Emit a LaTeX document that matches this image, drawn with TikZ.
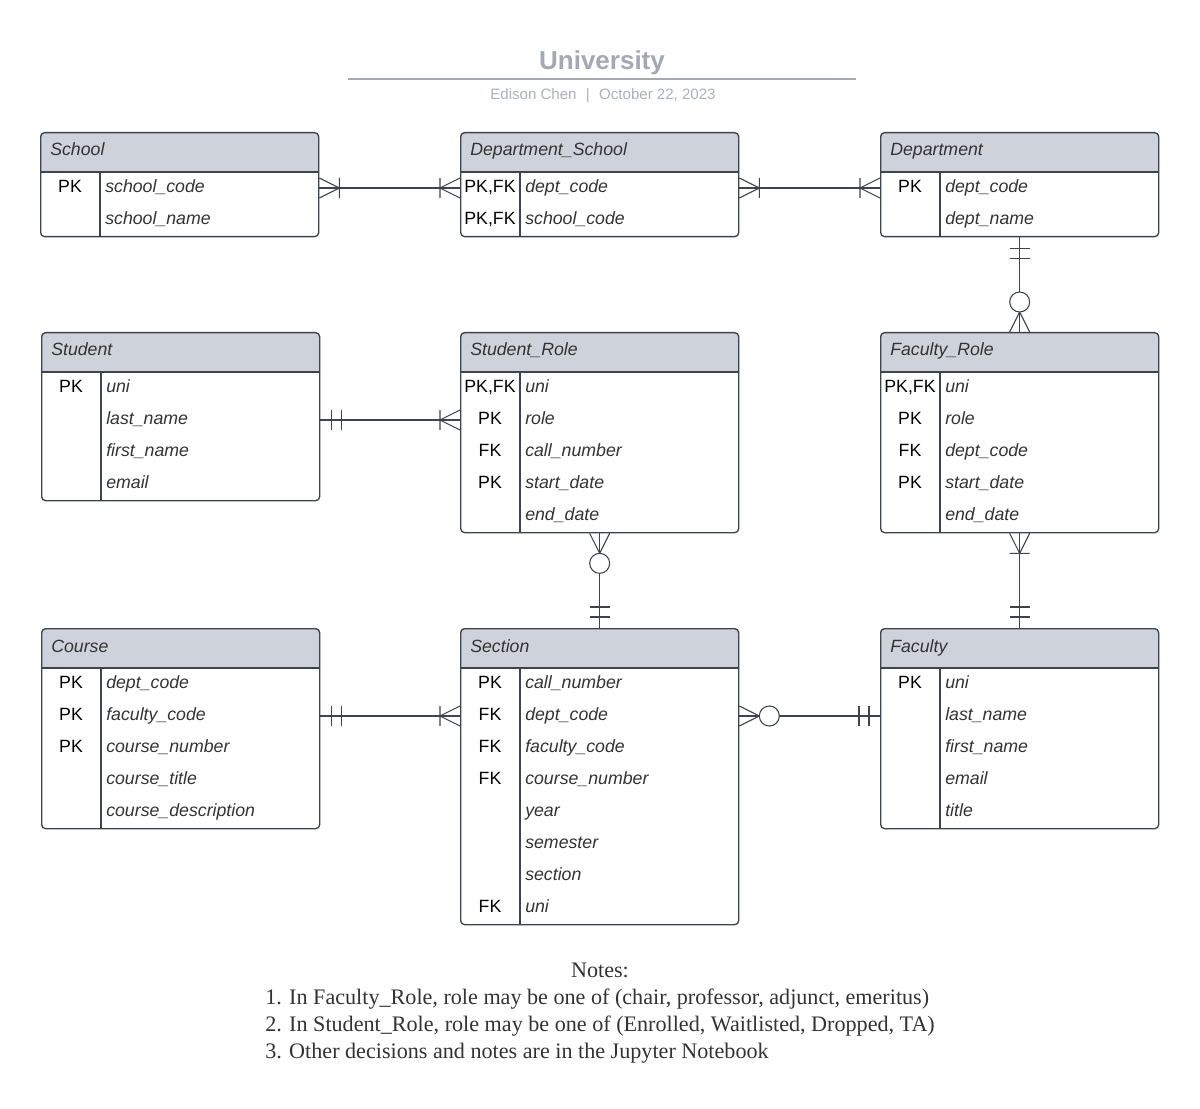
\documentclass[tikz,border=0pt]{standalone}
\usepackage{fontspec}
\setmainfont{Liberation Serif}
\setsansfont{Liberation Sans}

\definecolor{edge}{HTML}{3E444D}
\definecolor{hdrfill}{HTML}{CED3DB}
\definecolor{fieldgray}{HTML}{333333}
\definecolor{titlegray}{HTML}{A3A8B3}

\tikzset{
  tblbox/.style={draw=edge, line width=1pt, rounded corners=3pt, inner sep=0pt,
    minimum width=208.5pt},
  tblline/.style={draw=edge, line width=1pt},
  conn/.style={draw=edge, line width=0.8pt},
  hdrtext/.style={font=\sffamily\itshape\fontsize{13.3}{15}\selectfont, text=fieldgray, inner sep=0pt},
  keytext/.style={font=\sffamily\fontsize{13.3}{15}\selectfont, text=black, inner sep=0pt},
  fieldtext/.style={font=\sffamily\itshape\fontsize{13.3}{15}\selectfont, text=fieldgray, inner sep=0pt},
  notetext/.style={font=\fontsize{16.6}{19}\selectfont, text=fieldgray, inner sep=0pt},
  pics/onemany/.style={code={\draw[conn] (0,-10) -- (20,0) -- (0,10) (20,-10) -- (20,10);}},
  pics/justone/.style={code={\draw[conn] (11,-10) -- (11,10) (21,-10) -- (21,10);}},
  pics/zeromany/.style={code={\draw[conn] (0,-10) -- (20,0) -- (0,10);
    \draw[conn, fill=white] (30,0) circle[radius=10];}},
}

% id, x, y, number of rows, title, key/field list
\newcommand{\entity}[6]{%
  \fill[hdrfill, rounded corners=3pt] (#2,#3) rectangle (#2+279,#3+46);
  \fill[white] (#2,#3+40) rectangle (#2+279,{#3+40+32*#4});
  \draw[tblline] (#2,#3+40) -- (#2+279,#3+40);
  \draw[tblline] (#2+60,#3+40) -- (#2+60,{#3+40+32*#4});
  \node[hdrtext, anchor=base west] (#1-t) at (#2+10,#3+24) {#5};
  \foreach \k/\f [count=\i] in {#6} {
    \coordinate (#1-\i) at (#2,{#3+24+32*\i});
    \node[keytext, anchor=base] (#1-k\i) at (#2+30,{#3+28.5+32*\i}) {\k};
    \node[fieldtext, anchor=base west] (#1-f\i) at (#2+65,{#3+28.5+32*\i}) {\f};
  }
  \node[tblbox, minimum height={(40+32*#4)*0.75pt}, anchor=north west] (#1) at (#2,#3) {};
}

\begin{document}
\begin{tikzpicture}[x=0.75pt, y=-0.75pt]
  \useasboundingbox[fill=white] (0,0) rectangle (1200,1109);

  % heading
  \node[font=\sffamily\bfseries\fontsize{19.5}{22}\selectfont, text=titlegray, anchor=base] (title) at (602,70) {University};
  \coordinate (rulel) at (348,79);
  \coordinate (ruler) at (856,79);
  \draw[titlegray, line width=1.5pt] (rulel) -- (ruler);
  \node[font=\sffamily\fontsize{11.3}{13}\selectfont, text=titlegray!90, anchor=base] (byline) at (603,100)
    {Edison Chen\hspace{7pt}|\hspace{7pt}October 22, 2023};

  % tables
  \entity{school}{40}{132}{2}{School}{PK/school\_code, /school\_name}
  \entity{dsch}{460}{132}{2}{Department\_School}{{PK,FK}/dept\_code, {PK,FK}/school\_code}
  \entity{dept}{880}{132}{2}{Department}{PK/dept\_code, /dept\_name}
  \entity{student}{41}{332}{4}{Student}{PK/uni, /last\_name, /first\_name, /email}
  \entity{srole}{460}{332}{5}{Student\_Role}{{PK,FK}/uni, PK/role, FK/call\_number, PK/start\_date, /end\_date}
  \entity{frole}{880}{332}{5}{Faculty\_Role}{{PK,FK}/uni, PK/role, FK/dept\_code, PK/start\_date, /end\_date}
  \entity{course}{41}{628}{5}{Course}{PK/dept\_code, PK/faculty\_code, PK/course\_number, /course\_title, /course\_description}
  \entity{section}{460}{628}{8}{Section}{PK/call\_number, FK/dept\_code, FK/faculty\_code, FK/course\_number, /year, /semester, /section, FK/uni}
  \entity{faculty}{880}{628}{5}{Faculty}{PK/uni, /last\_name, /first\_name, /email, /title}

  % relationships
  \draw[conn] (school.east |- school-1) -- (dsch.west |- dsch-1);
  \pic at (school.east |- school-1) {onemany};
  \pic[rotate=180] at (dsch.west |- dsch-1) {onemany};

  \draw[conn] (dsch.east |- dsch-1) -- (dept.west |- dept-1);
  \pic at (dsch.east |- dsch-1) {onemany};
  \pic[rotate=180] at (dept.west |- dept-1) {onemany};

  \draw[conn] (dept.south) -- (frole.north);
  \pic[rotate=-90] at (dept.south) {justone};
  \pic[rotate=90] at (frole.north) {zeromany};

  \draw[conn] (student.east |- student-2) -- (srole.west |- srole-2);
  \pic at (student.east |- student-2) {justone};
  \pic[rotate=180] at (srole.west |- srole-2) {onemany};

  \draw[conn] (srole.south) -- (section.north);
  \pic[rotate=-90] at (srole.south) {zeromany};
  \pic[rotate=90] at (section.north) {justone};

  \draw[conn] (frole.south) -- (faculty.north);
  \pic[rotate=-90] at (frole.south) {onemany};
  \pic[rotate=90] at (faculty.north) {justone};

  \draw[conn] (course.east |- course-2) -- (section.west |- section-2);
  \pic at (course.east |- course-2) {justone};
  \pic[rotate=180] at (section.west |- section-2) {onemany};

  \draw[conn] (section.east |- section-2) -- (faculty.west |- faculty-2);
  \pic at (section.east |- section-2) {zeromany};
  \pic[rotate=180] at (faculty.west |- faculty-2) {justone};

  % notes
  \node[notetext, anchor=base] (notes) at (600,977) {Notes:};
  \node[notetext, anchor=base west] (note1) at (265,1004) {1. In Faculty\_Role, role may be one of (chair, professor, adjunct, emeritus)};
  \node[notetext, anchor=base west] (note2) at (265,1031) {2. In Student\_Role, role may be one of (Enrolled, Waitlisted, Dropped, TA)};
  \node[notetext, anchor=base west] (note3) at (265,1058) {3. Other decisions and notes are in the Jupyter Notebook};
\end{tikzpicture}
\end{document}
